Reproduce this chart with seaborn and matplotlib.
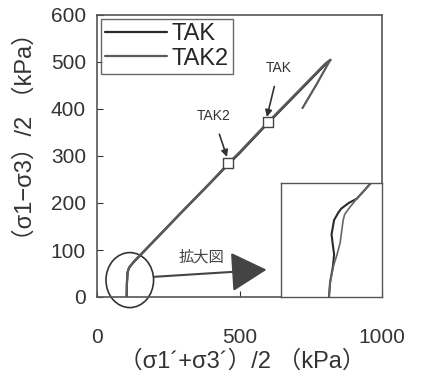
import numpy as np
import pandas as pd
import seaborn as sns
import matplotlib.pyplot as plt
from matplotlib.patches import Ellipse

# Stress path data (kPa)
tak_p = [104, 105, 107, 112, 130, 200, 300, 400, 460, 500, 600, 700, 800, 819]
tak_q = [0, 30, 52, 62, 75, 119, 182, 244, 282, 306, 370, 432, 494, 504]
tak2_p = [104, 105, 108, 114, 130, 200, 300, 400, 460, 500, 600, 700, 800, 819, 770, 721]
tak2_q = [0, 30, 54, 64, 76, 120, 183, 245, 284, 308, 372, 434, 496, 505, 452, 402]

# Marked points
mark_p = [600, 460]
mark_q = [372, 285]

# Enlarged start of the paths (inset)
zoom_tak_p = [114, 114.4, 115.6, 116.0, 115.4, 115.0, 116.0, 117.6, 118.8, 121.8, 125.0, 130.6]
zoom_tak_q = [0, 10, 22, 30, 38, 44, 54, 59, 62, 66, 69, 80]
zoom_tak2_p = [114, 114.4, 115.8, 117.2, 118.4, 119.0, 119.6, 120.2, 121.8, 125.0, 130.6]
zoom_tak2_q = [0, 10, 22, 30, 38, 46, 54, 58, 62, 69, 80]

sns.set_style("ticks")
plt.rcParams['font.family'] = ['Liberation Sans', 'Noto Sans CJK JP', 'DejaVu Sans']

fig = plt.figure(figsize=(4.27, 3.79), dpi=100)
ax = fig.add_axes([97 / 427, 1 - 297 / 379, 285 / 427, 282 / 379])

df = pd.concat([
    pd.DataFrame({"p": tak_p, "q": tak_q, "test": "TAK"}),
    pd.DataFrame({"p": tak2_p, "q": tak2_q, "test": "TAK2"}),
])
sns.lineplot(data=df, x="p", y="q", hue="test", sort=False, estimator=None,
             palette={"TAK": "#2a2a2a", "TAK2": "#5a5a5a"}, linewidth=1.6, ax=ax)
ax.scatter(mark_p, mark_q, marker="s", s=60, facecolors="white", edgecolors="#444444",
           linewidths=1.0, zorder=3)

ax.set_xlim(0, 1000)
ax.set_ylim(0, 600)
ax.set_xticks([0, 500, 1000])
ax.set_yticks([0, 100, 200, 300, 400, 500, 600])
ax.tick_params(direction="in", length=4, labelsize=15, colors="#333333", pad=8)
ax.tick_params(axis="x", pad=22)
for s in ax.spines.values():
    s.set_color("#555555")
    s.set_linewidth(1.2)

ax.set_xlabel("（σ1´+σ3´）/2 （kPa）", fontsize=17, color="#333333")
ax.set_ylabel("（σ1−σ3）/2 （kPa）", fontsize=17, color="#333333")
ax.xaxis.set_label_coords(0.51, -0.19)
ax.yaxis.set_label_coords(-0.21, 0.567)

leg = ax.legend(loc="upper left", fontsize=17, frameon=True, fancybox=False,
                handlelength=2.6, handletextpad=0.2, borderpad=0.2, labelspacing=0.1,
                borderaxespad=0.15, edgecolor="#444444")
leg.get_frame().set_linewidth(1.0)
for h in leg.get_lines():
    h.set_linewidth(1.6)

# annotations
ax.annotate("TAK", xy=(596, 383), xytext=(638, 487), fontsize=10, color="#333333",
            ha="center", va="center",
            arrowprops=dict(arrowstyle="-|>", color="#333333", lw=1.2,
                            shrinkA=6, shrinkB=0, mutation_scale=10))
ax.annotate("TAK2", xy=(456, 298), xytext=(408, 385), fontsize=10, color="#333333",
            ha="center", va="center",
            arrowprops=dict(arrowstyle="-|>", color="#333333", lw=1.2,
                            shrinkA=6, shrinkB=0, mutation_scale=10))

circle = Ellipse((115, 36), 167, 117, fill=False, edgecolor="#333333", lw=1.2,
                 clip_on=False)
ax.add_patch(circle)
ax.annotate("", xy=(595, 58), xytext=(202, 43),
            arrowprops=dict(arrowstyle="-|>,head_length=0.9,head_width=0.5",
                            color="#444444", lw=1.5, shrinkA=0, shrinkB=0,
                            mutation_scale=25))
ax.text(365, 85, "拡大図", fontsize=11, color="#444444", ha="center", va="center")

# inset
ins = ax.inset_axes([0.646, 0.0, 0.354, 0.404])
sns.lineplot(x=zoom_tak_p, y=zoom_tak_q, sort=False, estimator=None, color="#2a2a2a",
             linewidth=1.5, ax=ins)
sns.lineplot(x=zoom_tak2_p, y=zoom_tak2_q, sort=False, estimator=None, color="#666666",
             linewidth=1.2, ax=ins)
ins.set_xlim(95, 135)
ins.set_ylim(0, 80)
ins.set_xticks([])
ins.set_yticks([])
for s in ins.spines.values():
    s.set_color("#555555")
    s.set_linewidth(1.0)

fig.savefig("out.png", dpi=100)
